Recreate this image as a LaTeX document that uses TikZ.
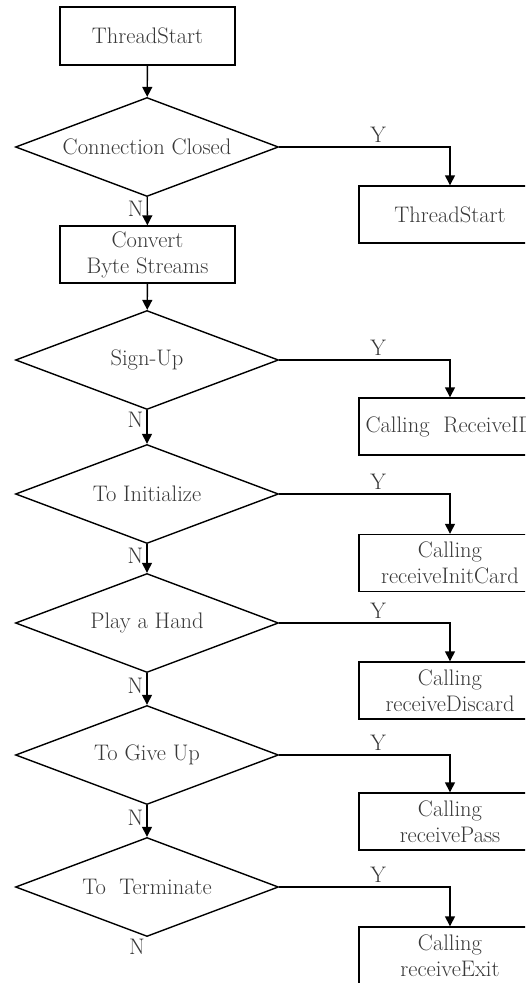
\documentclass[tikz,border=0pt]{standalone}
\usetikzlibrary{shapes.geometric,arrows.meta}

\begin{document}
\begin{tikzpicture}[x=1pt,y={(0pt,-1pt)},
  every node/.style={text=black!78, font=\fontsize{22.5}{26}\selectfont},
  box/.style={draw=black, line width=1.4pt, minimum width=175pt, minimum height=58pt, align=center, inner sep=0pt},
  callbox/.style={box, minimum width=182pt, minimum height=57pt},
  decide/.style={draw=black, diamond, line width=1.4pt, minimum width=263pt, minimum height=99pt, aspect=2.65, inner sep=0pt},
  flow/.style={-{Triangle[length=10pt,width=10pt]}, line width=1.4pt},
  yn/.style={inner sep=3pt}]
 \useasboundingbox (0,0) rectangle (525,983);
 \clip (0,0) rectangle (525,983);

 % main column
 \node[box] (start) at (147.5,36) {ThreadStart};
 \node[decide] (closed) at (147,147) {Connection Closed};
 \node[box, minimum height=57pt] (conv) at (147.5,254.5) {Convert\\Byte Streams};
 \node[decide] (signup) at (147,360) {Sign-Up};
 \node[decide] (init) at (147,494) {To Initialize};
 \node[decide] (hand) at (147,623) {Play a Hand};
 \node[decide] (giveup) at (147,755) {To Give Up};
 \node[decide] (term) at (147,887) {To\ \ Terminate};

 % called routines
 \node[callbox] (rstart) at (450,214.5) {ThreadStart};
 \node[callbox] (rid) at (450,426.5) {Calling\ \ ReceiveID};
 \node[callbox] (rinit) at (450,563) {Calling\\receiveInitCard};
 \node[callbox] (rdisc) at (450,690.5) {Calling\\receiveDiscard};
 \node[callbox] (rpass) at (450,821.5) {Calling\\receivePass};
 \node[callbox] (rexit) at (450,955.5) {Calling\\receiveExit};

 \draw[flow] (start) -- (closed);
 \draw[flow] (closed) -- node[pos=0.4, left, yn]{N} (conv);
 \draw[flow] (conv) -- (signup);
 \draw[flow] (signup) -- node[pos=0.3, left, yn]{N} (init);
 \draw[flow] (init) -- node[pos=0.4, left, yn]{N} (hand);
 \draw[flow] (hand) -- node[pos=0.4, left, yn]{N} (giveup);
 \draw[flow] (giveup) -- node[pos=0.4, left, yn]{N} (term);
 \node[below left, inner sep=2pt] (tn) at (term.south) {N};

 \draw[flow] (closed.east) -| node[pos=0.29, above, inner sep=4pt]{Y} (rstart.north);
 \draw[flow] (signup.east) -| node[pos=0.29, above, inner sep=4pt]{Y} (rid.north);
 \draw[flow] (init.east) -| node[pos=0.29, above, inner sep=4pt]{Y} (rinit.north);
 \draw[flow] (hand.east) -| node[pos=0.29, above, inner sep=4pt]{Y} (rdisc.north);
 \draw[flow] (giveup.east) -| node[pos=0.29, above, inner sep=4pt]{Y} (rpass.north);
 \draw[flow] (term.east) -| node[pos=0.29, above, inner sep=4pt]{Y} (rexit.north);

\end{tikzpicture}
\end{document}
